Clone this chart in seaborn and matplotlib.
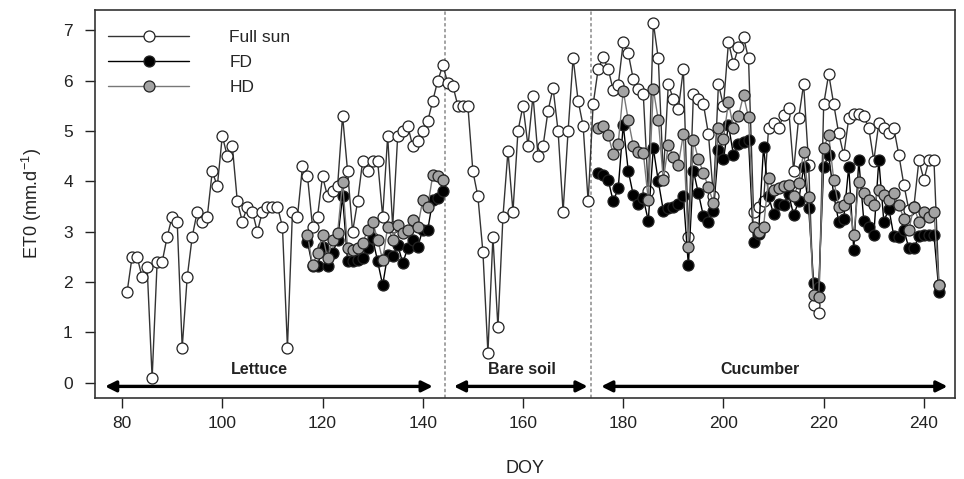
import numpy as np
import pandas as pd
import matplotlib
matplotlib.use("Agg")
import matplotlib.pyplot as plt
from matplotlib.lines import Line2D
import seaborn as sns

# ---------------- data ----------------
fs_doy = list(range(81, 244))
fs_et0 = [
    1.8, 2.5, 2.5, 2.1, 2.3, 0.1, 2.4, 2.4, 2.9, 3.3,          # 81-90
    3.2, 0.7, 2.1, 2.9, 3.4, 3.2, 3.3, 4.2, 3.9, 4.9,          # 91-100
    4.5, 4.7, 3.6, 3.2, 3.5, 3.4, 3.0, 3.4, 3.5, 3.5,          # 101-110
    3.5, 3.1, 0.7, 3.4, 3.3, 4.3, 4.1, 3.1, 3.3, 4.1,          # 111-120
    3.7, 3.8, 3.9, 5.3, 4.2, 3.0, 3.6, 4.4, 4.2, 4.4,          # 121-130
    4.4, 3.3, 4.9, 3.1, 4.9, 5.0, 5.1, 4.7, 4.8, 5.0,          # 131-140
    5.2, 5.6, 6.0, 6.3, 5.95, 5.9, 5.5, 5.5, 5.5, 4.2,         # 141-150
    3.7, 2.6, 0.6, 2.9, 1.1, 3.3, 4.6, 3.4, 5.0, 5.5,          # 151-160
    4.7, 5.7, 4.5, 4.7, 5.4, 5.85, 5.0, 3.4, 5.0, 6.45,        # 161-170
    5.6, 5.1, 3.6, 5.53, 6.23, 6.46, 6.23, 5.81, 5.91, 6.76,   # 171-180
    6.54, 6.03, 5.83, 5.73, 3.8, 7.15, 6.44, 4.1, 5.93, 5.63,  # 181-190
    5.43, 6.23, 2.9, 5.73, 5.63, 5.53, 4.94, 3.7, 5.93, 5.5,   # 191-200
    6.76, 6.33, 6.66, 6.86, 6.44, 3.4, 3.5, 3.6, 5.05, 5.15,   # 201-210
    5.05, 5.32, 5.45, 4.21, 5.25, 5.93, 4.33, 1.55, 1.39, 5.53,  # 211-220
    6.13, 5.53, 4.95, 4.52, 5.25, 5.33, 5.33, 5.3, 5.05, 4.41,   # 221-230
    5.15, 5.05, 4.95, 5.05, 4.52, 3.93, 3.43, 3.5, 4.42, 4.03,   # 231-240
    4.42, 4.42, 1.95,                                            # 241-243
]

lettuce_doy = list(range(117, 145))
fd_lettuce = [2.80, 2.31, 2.31, 2.70, 2.31, 2.57, 2.84, 3.70, 2.41, 2.41,
              2.44, 2.47, 2.67, 2.87, 2.41, 1.94, 2.54, 2.51, 2.74, 2.38,
              2.67, 2.84, 2.70, 3.04, 3.04, 3.63, 3.66, 3.80]
hd_lettuce = [2.94, 2.34, 2.57, 2.94, 2.47, 2.84, 2.97, 3.99, 2.67, 2.64,
              2.67, 2.77, 3.04, 3.20, 2.84, 2.44, 3.10, 2.84, 3.13, 2.97,
              3.04, 3.23, 3.10, 3.63, 3.50, 4.13, 4.10, 4.03]

cucumber_doy = list(range(175, 244))
fd_cucumber = [4.16, 4.13, 4.03, 3.60, 3.86, 5.12, 4.21, 3.73, 3.55, 3.66,   # 175-184
               3.22, 4.66, 4.00, 3.42, 3.47, 3.50, 3.55, 3.70, 2.33, 4.21,   # 185-194
               3.76, 3.31, 3.20, 3.42, 4.62, 4.44, 5.12, 4.52, 4.74, 4.78,   # 195-204
               4.82, 2.80, 2.95, 4.69, 3.70, 3.35, 3.55, 3.53, 3.75, 3.33,   # 205-214
               3.60, 4.29, 3.47, 1.98, 1.90, 4.29, 4.52, 3.73, 3.20, 3.26,   # 215-224
               4.29, 2.64, 4.42, 3.22, 3.10, 2.94, 4.42, 3.20, 3.46, 2.91,   # 225-234
               2.90, 3.04, 2.67, 2.67, 2.91, 2.94, 2.94, 2.94, 1.81]         # 235-243
hd_cucumber = [5.05, 5.10, 4.92, 4.54, 4.75, 5.80, 5.22, 4.71, 4.59, 4.57,   # 175-184
               3.63, 5.83, 5.22, 4.03, 4.72, 4.49, 4.33, 4.94, 2.70, 4.82,   # 185-194
               4.44, 4.17, 3.88, 3.57, 5.05, 4.84, 5.58, 5.05, 5.30, 5.71,   # 195-204
               5.27, 3.10, 3.00, 3.10, 4.06, 3.83, 3.86, 3.90, 3.93, 3.70,   # 205-214
               3.96, 4.59, 3.68, 1.75, 1.71, 4.66, 4.92, 4.03, 3.50, 3.53,   # 215-224
               3.66, 2.94, 3.99, 3.76, 3.63, 3.53, 3.83, 3.73, 3.63, 3.76,   # 225-234
               3.53, 3.26, 3.04, 3.50, 3.20, 3.40, 3.30, 3.40, 1.94]         # 235-243

series_names = ["Full sun", "FD", "HD"]
phase_labels = ["Lettuce", "Bare soil", "Cucumber"]
phase_bounds = [144.5, 173.6]
x_ticks = [80, 100, 120, 140, 160, 180, 200, 220, 240]
y_ticks = [0, 1, 2, 3, 4, 5, 6, 7]

# ---------------- tables ----------------
df_fs = pd.DataFrame({"DOY": fs_doy, "ET0": fs_et0, "seg": 0})
df_fd = pd.concat([
    pd.DataFrame({"DOY": lettuce_doy, "ET0": fd_lettuce, "seg": 0}),
    pd.DataFrame({"DOY": cucumber_doy, "ET0": fd_cucumber, "seg": 1}),
])
df_hd = pd.concat([
    pd.DataFrame({"DOY": lettuce_doy, "ET0": hd_lettuce, "seg": 0}),
    pd.DataFrame({"DOY": cucumber_doy, "ET0": hd_cucumber, "seg": 1}),
])

sns.set_style("ticks")
plt.rcParams["font.family"] = ["Liberation Sans", "DejaVu Sans"]
plt.rcParams["mathtext.fontset"] = "custom"
plt.rcParams["mathtext.rm"] = "Liberation Sans"
plt.rcParams["mathtext.it"] = "Liberation Sans"

fig = plt.figure(figsize=(9.64, 4.79), dpi=100)
ax = fig.add_axes([95 / 964, 1 - 398 / 479, (955 - 95) / 964, (398 - 10) / 479])

styles = {
    "Full sun": dict(color="#333333", mfc="white"),
    "FD": dict(color="black", mfc="black"),
    "HD": dict(color="#777777", mfc="#a3a3a3"),
}
frames = {"Full sun": df_fs, "FD": df_fd, "HD": df_hd}
for i, name in enumerate(series_names):
    st = styles[name]
    sns.lineplot(data=frames[name], x="DOY", y="ET0", units="seg", estimator=None,
                 ax=ax, color=st["color"], linewidth=1.0, marker="o",
                 markersize=7.9, markerfacecolor=st["mfc"], markeredgecolor="#222222",
                 markeredgewidth=0.9, zorder=3 + i, legend=False)

# phase separators
for b in phase_bounds:
    ax.axvline(b, color="#8a8a8a", linestyle=(0, (2.2, 1.6)), linewidth=1.1, zorder=1)

# phase arrows and labels
arrow_y = -0.07
arrows = [(76.6, 142.0), (146.2, 172.9), (175.6, 244.7)]
label_x = [107.3, 159.7, 207.3]
for (a, b), lab, lx in zip(arrows, phase_labels, label_x):
    ax.annotate("", xy=(a, arrow_y), xytext=(b, arrow_y),
                arrowprops=dict(arrowstyle="<|-|>", color="black", lw=2.4,
                                mutation_scale=16, shrinkA=0, shrinkB=0),
                zorder=6)
    ax.text(lx, 0.27, lab, ha="center", va="center", fontsize=11.5,
            fontweight="bold", color="#222222")

ax.set_xlim(74.6, 246.2)
ax.set_ylim(-0.3, 7.4)
ax.set_xticks(x_ticks)
ax.set_yticks(y_ticks)
ax.tick_params(axis="x", direction="out", length=7, width=1.0,
               labelsize=12.5, colors="#222222", pad=6)
ax.tick_params(axis="y", direction="out", length=7, width=1.0,
               labelsize=12.5, colors="#222222", pad=9)
for sp in ax.spines.values():
    sp.set_linewidth(1.2)
    sp.set_color("#333333")

ax.set_xlabel("DOY", fontsize=13, labelpad=21, color="#222222")
ax.set_ylabel("ET0 (mm.d$^{-1}$)", fontsize=13, labelpad=14, color="#222222")

handles = [Line2D([0], [0], color=styles[n]["color"], lw=1.0, marker="o",
                  markersize=7.9, markerfacecolor=styles[n]["mfc"],
                  markeredgecolor="#222222", markeredgewidth=0.9)
           for n in series_names]
ax.legend(handles, series_names, loc="upper left", bbox_to_anchor=(0.015, 0.948),
          frameon=False, borderpad=0, borderaxespad=0, handlelength=4.7,
          handletextpad=2.3, labelspacing=0.57, fontsize=12.5)

fig.savefig("out.png", dpi=100)
